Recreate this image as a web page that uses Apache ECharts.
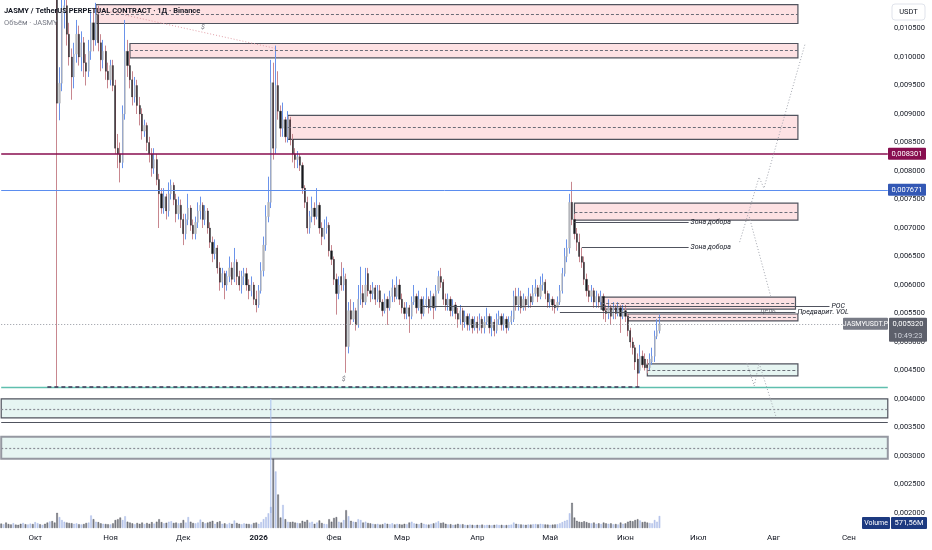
<!DOCTYPE html>
<html><head><meta charset="utf-8">
<script src="https://cdn.jsdelivr.net/npm/echarts@6/dist/echarts.min.js"></script>
<style>html,body{margin:0;padding:0;background:#fff}#c{width:932px;height:550px}</style>
</head><body><div id="c"></div>
<script>
// ---------------- data ----------------
const startDate = '2025-09-17';
const dayCount = 366;
const monthNames = ['Янв','Фев','Мар','Апр','Май','Июн','Июл','Авг','Сен','Окт','Ноя','Дек'];
const priceMin = 0.002, priceMax = 0.011, priceStep = 0.0005;
const volumeMax = 4200; // millions

// daily candles from 2025-09-17: [open, close, low, high]
const candles = [
[0.01560,0.01540,0.01520,0.01590],[0.01540,0.01580,0.01530,0.01600],[0.01580,0.01550,0.01530,0.01595],[0.01550,0.01510,0.01490,0.01565],
[0.01510,0.01470,0.01450,0.01525],[0.01470,0.01490,0.01455,0.01510],[0.01490,0.01460,0.01440,0.01500],[0.01460,0.01420,0.01400,0.01470],
[0.01420,0.01380,0.01360,0.01430],[0.01380,0.01400,0.01365,0.01415],[0.01400,0.01390,0.01370,0.01420],[0.01390,0.01420,0.01380,0.01440],
[0.01420,0.01440,0.01410,0.01460],[0.01440,0.01410,0.01395,0.01450],[0.01410,0.01450,0.01400,0.01470],[0.01450,0.01470,0.01435,0.01490],
[0.01470,0.01440,0.01425,0.01480],[0.01440,0.01460,0.01430,0.01475],[0.01460,0.01430,0.01410,0.01470],[0.01430,0.01400,0.01385,0.01440],
[0.01400,0.01410,0.01380,0.01425],[0.01410,0.01380,0.01360,0.01420],[0.01380,0.01370,0.01340,0.01395],[0.01370,0.00919,0.00421,0.01380],
[0.00919,0.00954,0.00889,0.00982],[0.00954,0.01080,0.00940,0.01110],[0.01080,0.01090,0.01050,0.01125],[0.01090,0.01040,0.01020,0.01105],
[0.01040,0.01000,0.00985,0.01060],[0.01000,0.00965,0.00925,0.01015],[0.00965,0.01005,0.00945,0.01025],[0.01005,0.01040,0.00990,0.01065],
[0.01040,0.01000,0.00985,0.01055],[0.01000,0.01025,0.00975,0.01045],[0.01025,0.00990,0.00965,0.01035],[0.00990,0.00975,0.00950,0.01005],
[0.00975,0.01010,0.00965,0.01030],[0.01010,0.01060,0.00995,0.01080],[0.01060,0.01030,0.01010,0.01085],[0.01030,0.01075,0.01020,0.01095],
[0.01075,0.01025,0.01010,0.01090],[0.01025,0.00995,0.00975,0.01040],[0.00995,0.01010,0.00980,0.01030],[0.01010,0.00975,0.00960,0.01020],
[0.00975,0.00960,0.00945,0.00990],[0.00960,0.00985,0.00950,0.00995],[0.00985,0.00950,0.00940,0.00995],[0.00950,0.00840,0.00830,0.00960],
[0.00840,0.00830,0.00805,0.00865],[0.00830,0.00815,0.00780,0.00850],[0.00815,0.00900,0.00805,0.00915],[0.00900,0.01010,0.00890,0.01065],
[0.01010,0.00985,0.00965,0.01030],[0.00985,0.00960,0.00945,0.01010],[0.00960,0.00930,0.00915,0.00975],[0.00930,0.00950,0.00920,0.00965],
[0.00950,0.00915,0.00900,0.00960],[0.00915,0.00900,0.00880,0.00930],[0.00900,0.00870,0.00855,0.00910],[0.00870,0.00880,0.00860,0.00890],
[0.00880,0.00850,0.00835,0.00885],[0.00850,0.00830,0.00815,0.00860],[0.00830,0.00805,0.00790,0.00840],[0.00805,0.00820,0.00795,0.00840],
[0.00820,0.00785,0.00775,0.00830],[0.00785,0.00760,0.00700,0.00795],[0.00760,0.00735,0.00725,0.00770],[0.00735,0.00755,0.00725,0.00770],
[0.00755,0.00730,0.00715,0.00760],[0.00730,0.00760,0.00720,0.00780],[0.00760,0.00775,0.00750,0.00785],[0.00775,0.00750,0.00740,0.00780],
[0.00750,0.00725,0.00710,0.00760],[0.00725,0.00740,0.00715,0.00755],[0.00740,0.00715,0.00700,0.00750],[0.00715,0.00690,0.00670,0.00725],
[0.00690,0.00715,0.00680,0.00725],[0.00715,0.00735,0.00705,0.00760],[0.00735,0.00705,0.00695,0.00740],[0.00705,0.00690,0.00680,0.00715],
[0.00690,0.00710,0.00680,0.00720],[0.00710,0.00730,0.00700,0.00745],[0.00730,0.00740,0.00715,0.00755],[0.00740,0.00715,0.00700,0.00745],
[0.00715,0.00730,0.00705,0.00740],[0.00730,0.00700,0.00690,0.00735],[0.00700,0.00675,0.00665,0.00710],[0.00675,0.00655,0.00640,0.00685],
[0.00655,0.00665,0.00645,0.00680],[0.00665,0.00630,0.00620,0.00670],[0.00630,0.00605,0.00590,0.00640],[0.00605,0.00620,0.00595,0.00630],
[0.00620,0.00600,0.00575,0.00625],[0.00600,0.00615,0.00590,0.00625],[0.00615,0.00630,0.00605,0.00650],[0.00630,0.00610,0.00600,0.00640],
[0.00610,0.00640,0.00605,0.00665],[0.00640,0.00615,0.00600,0.00645],[0.00615,0.00600,0.00590,0.00625],[0.00600,0.00615,0.00585,0.00625],
[0.00615,0.00620,0.00600,0.00630],[0.00620,0.00600,0.00590,0.00630],[0.00600,0.00590,0.00575,0.00610],[0.00590,0.00600,0.00580,0.00615],
[0.00600,0.00575,0.00565,0.00605],[0.00575,0.00565,0.00552,0.00590],[0.00565,0.00590,0.00560,0.00600],[0.00590,0.00625,0.00585,0.00640],
[0.00625,0.00670,0.00615,0.00685],[0.00670,0.00720,0.00660,0.00740],[0.00720,0.00745,0.00710,0.00790],[0.00745,0.00955,0.00735,0.00995],
[0.00955,0.00840,0.00820,0.00990],[0.00840,0.00950,0.00830,0.01020],[0.00950,0.00905,0.00890,0.00975],[0.00905,0.00875,0.00860,0.00915],
[0.00875,0.00890,0.00860,0.00920],[0.00890,0.00860,0.00850,0.00895],[0.00860,0.00890,0.00850,0.00905],[0.00890,0.00855,0.00845,0.00895],
[0.00855,0.00830,0.00815,0.00865],[0.00830,0.00820,0.00805,0.00840],[0.00820,0.00825,0.00805,0.00835],[0.00825,0.00810,0.00800,0.00830],
[0.00810,0.00770,0.00760,0.00815],[0.00770,0.00745,0.00735,0.00775],[0.00745,0.00700,0.00690,0.00755],[0.00700,0.00720,0.00690,0.00730],
[0.00720,0.00735,0.00710,0.00755],[0.00735,0.00720,0.00705,0.00745],[0.00720,0.00740,0.00715,0.00770],[0.00740,0.00700,0.00690,0.00745],
[0.00700,0.00685,0.00670,0.00710],[0.00685,0.00700,0.00680,0.00715],[0.00700,0.00705,0.00690,0.00720],[0.00705,0.00660,0.00650,0.00710],
[0.00660,0.00645,0.00635,0.00670],[0.00645,0.00610,0.00600,0.00650],[0.00610,0.00585,0.00548,0.00620],[0.00585,0.00600,0.00575,0.00615],
[0.00615,0.00600,0.00590,0.00640],[0.00600,0.00615,0.00590,0.00630],[0.00610,0.00492,0.00446,0.00620],[0.00492,0.00555,0.00480,0.00570],
[0.00555,0.00540,0.00530,0.00575],[0.00540,0.00555,0.00535,0.00570],[0.00555,0.00530,0.00520,0.00560],[0.00530,0.00575,0.00525,0.00600],
[0.00575,0.00585,0.00565,0.00632],[0.00585,0.00570,0.00560,0.00600],[0.00570,0.00600,0.00565,0.00630],[0.00620,0.00590,0.00580,0.00630],
[0.00590,0.00585,0.00570,0.00600],[0.00585,0.00595,0.00575,0.00605],[0.00595,0.00575,0.00565,0.00600],[0.00575,0.00590,0.00570,0.00600],
[0.00590,0.00570,0.00560,0.00600],[0.00570,0.00555,0.00545,0.00575],[0.00555,0.00575,0.00550,0.00585],[0.00575,0.00560,0.00530,0.00580],
[0.00560,0.00580,0.00555,0.00590],[0.00580,0.00595,0.00570,0.00610],[0.00595,0.00580,0.00570,0.00600],[0.00580,0.00600,0.00575,0.00615],
[0.00600,0.00575,0.00565,0.00610],[0.00575,0.00560,0.00550,0.00585],[0.00560,0.00550,0.00540,0.00570],[0.00550,0.00560,0.00540,0.00570],
[0.00560,0.00545,0.00516,0.00565],[0.00545,0.00570,0.00540,0.00580],[0.00570,0.00580,0.00565,0.00600],[0.00580,0.00560,0.00550,0.00585],
[0.00560,0.00575,0.00555,0.00590],[0.00575,0.00550,0.00540,0.00580],[0.00550,0.00565,0.00545,0.00580],[0.00565,0.00575,0.00560,0.00595],
[0.00575,0.00560,0.00550,0.00580],[0.00560,0.00580,0.00555,0.00590],[0.00580,0.00560,0.00540,0.00585],[0.00560,0.00590,0.00555,0.00600],
[0.00590,0.00615,0.00585,0.00625],[0.00615,0.00605,0.00595,0.00630],[0.00605,0.00575,0.00565,0.00610],[0.00575,0.00565,0.00555,0.00585],
[0.00565,0.00575,0.00555,0.00585],[0.00575,0.00555,0.00545,0.00580],[0.00555,0.00565,0.00545,0.00575],[0.00565,0.00550,0.00540,0.00570],
[0.00550,0.00540,0.00525,0.00560],[0.00540,0.00555,0.00530,0.00565],[0.00555,0.00535,0.00520,0.00560],[0.00535,0.00545,0.00525,0.00555],
[0.00545,0.00530,0.00520,0.00550],[0.00530,0.00540,0.00520,0.00550],[0.00540,0.00525,0.00515,0.00545],[0.00525,0.00535,0.00520,0.00545],
[0.00535,0.00525,0.00515,0.00545],[0.00525,0.00540,0.00520,0.00550],[0.00540,0.00525,0.00515,0.00545],[0.00525,0.00535,0.00515,0.00545],
[0.00535,0.00545,0.00530,0.00560],[0.00545,0.00525,0.00515,0.00550],[0.00525,0.00535,0.00510,0.00545],[0.00535,0.00520,0.00510,0.00540],
[0.00520,0.00540,0.00515,0.00550],[0.00540,0.00545,0.00530,0.00555],[0.00545,0.00530,0.00520,0.00550],[0.00530,0.00540,0.00520,0.00550],
[0.00540,0.00525,0.00515,0.00545],[0.00525,0.00535,0.00520,0.00545],[0.00535,0.00545,0.00530,0.00555],[0.00540,0.00580,0.00535,0.00590],
[0.00580,0.00565,0.00555,0.00595],[0.00565,0.00580,0.00555,0.00595],[0.00580,0.00560,0.00550,0.00590],[0.00560,0.00575,0.00555,0.00585],
[0.00575,0.00565,0.00555,0.00580],[0.00565,0.00580,0.00560,0.00595],[0.00580,0.00570,0.00560,0.00585],[0.00570,0.00585,0.00565,0.00600],
[0.00585,0.00595,0.00580,0.00610],[0.00595,0.00580,0.00570,0.00600],[0.00580,0.00600,0.00575,0.00615],[0.00600,0.00605,0.00590,0.00620],
[0.00605,0.00585,0.00575,0.00610],[0.00585,0.00570,0.00560,0.00590],[0.00570,0.00575,0.00560,0.00585],[0.00575,0.00565,0.00555,0.00580],
[0.00565,0.00560,0.00550,0.00575],[0.00560,0.00570,0.00555,0.00580],[0.00570,0.00590,0.00565,0.00600],[0.00590,0.00620,0.00585,0.00630],
[0.00620,0.00650,0.00615,0.00665],[0.00650,0.00665,0.00640,0.00680],[0.00665,0.00745,0.00655,0.00760],[0.00745,0.00715,0.00705,0.00781],
[0.00715,0.00690,0.00680,0.00725],[0.00690,0.00675,0.00660,0.00700],[0.00675,0.00650,0.00640,0.00690],[0.00650,0.00640,0.00630,0.00665],
[0.00640,0.00610,0.00600,0.00650],[0.00610,0.00590,0.00580,0.00620],[0.00590,0.00580,0.00570,0.00600],[0.00580,0.00590,0.00570,0.00600],
[0.00590,0.00570,0.00560,0.00595],[0.00570,0.00580,0.00560,0.00590],[0.00580,0.00570,0.00560,0.00585],[0.00570,0.00580,0.00565,0.00590],
[0.00580,0.00555,0.00540,0.00585],[0.00555,0.00550,0.00535,0.00565],[0.00550,0.00560,0.00540,0.00575],[0.00560,0.00545,0.00530,0.00565],
[0.00545,0.00560,0.00540,0.00570],[0.00560,0.00550,0.00540,0.00565],[0.00550,0.00560,0.00545,0.00570],[0.00560,0.00545,0.00516,0.00565],
[0.00545,0.00555,0.00540,0.00565],[0.00555,0.00545,0.00535,0.00565],[0.00545,0.00520,0.00510,0.00550],[0.00520,0.00500,0.00490,0.00525],
[0.00500,0.00490,0.00478,0.00508],[0.00490,0.00465,0.00451,0.00495],[0.00470,0.00445,0.00421,0.00480],[0.00450,0.00475,0.00445,0.00495],
[0.00475,0.00460,0.00455,0.00485],[0.00470,0.00455,0.00450,0.00480],[0.00460,0.00455,0.00445,0.00470],[0.00455,0.00470,0.00450,0.00480],
[0.00465,0.00475,0.00460,0.00490],[0.00475,0.00510,0.00465,0.00520],[0.00510,0.00520,0.00505,0.00540],[0.00520,0.00532,0.00515,0.00548]
];

// daily volume, millions JASMY
const volumes = [
210,180,260,190,170,230,160,150,200,240, 180,170,210,190,280,230,180,150,200,260,
310,330,260,720,520,380,300,260,240,230, 200,220,180,170,190,240,260,600,420,300,
280,220,200,190,180,170,220,380,420,500, 380,560,300,260,220,180,240,200,260,190,
240,200,280,210,300,420,280,220,250,300, 320,240,260,220,240,380,260,520,300,240,
220,260,400,280,220,260,300,340,200,280, 320,200,220,180,240,200,360,240,200,180,
220,200,190,170,240,260,200,280,420,520, 700,1000,3300,2700,1600,500,1100,420,300,280,
300,260,240,220,340,300,380,260,300,200, 260,360,240,200,180,420,300,480,520,300,
260,380,850,560,340,300,280,420,380,260, 300,240,220,200,180,200,160,180,240,200,
180,220,170,200,180,160,200,180,260,300, 220,200,180,240,200,170,160,190,220,260,
320,240,260,200,170,180,150,160,200,170, 180,150,140,160,150,130,150,140,160,130,
150,140,130,150,160,140,150,130,140,150, 160,260,200,180,170,160,150,170,160,180,
190,170,200,180,170,160,150,160,170,180, 220,280,340,380,700,1200,500,340,300,280,
320,280,240,220,260,200,220,190,260,220, 200,220,180,190,170,260,200,220,300,340,
320,380,420,360,280,300,260,240,220,380, 300,571.56
];

const lastPrice = 0.005320;
const lastTime = '10:49:23';
const lastVolumeText = '571,56M';
const maroonLevel = 0.008301;
const blueLevel = 0.007671;
const tealLevel = 0.004213;

// pink / green boxes: [from, to, top, bottom, middle]
const pinkZones = [
  ['2025-10-26','2026-08-11',0.010920,0.010588,0.010755],
  ['2025-11-09','2026-08-11',0.010237,0.009985,0.010115],
  ['2026-01-13','2026-08-11',0.008976,0.008556,0.008766],
  ['2026-05-11','2026-08-11',0.007435,0.007137,0.007278],
  ['2026-05-22','2026-08-10',0.005789,0.005578,0.005684],
  ['2026-06-02','2026-08-11',0.005491,0.005369,0.005430]
];
const greenZones = [
  ['2026-06-10','2026-08-11',0.004616,0.004405,0.004511]
];
// full-width green bands: [top, bottom, middle]
const greenBands = [
  [0.004003,0.003670,0.003828],
  [0.003337,0.002952,0.003144]
];
const extraLevel = 0.003600;
// labelled segments: [from, to, price, text]
const labelledLines = [
  ['2026-05-11','2026-06-27',0.007102,'Зона добора'],
  ['2026-05-14','2026-06-27',0.006665,'Зона добора'],
  ['2026-03-09','2026-08-24',0.005630,'POC'],
  ['2026-05-05','2026-08-10',0.005526,'Предварит. VOL']
];
const notes = [
  ['2026-07-26',0.005544,'цель'],
  ['2025-12-09',0.010520,'$'],
  ['2026-02-05',0.004340,'$']
];
const lowDashLine = [['2025-10-06',0.004213],['2026-06-07',0.004213]];
const diagLine = [['2025-10-26',0.010850],['2026-01-08',0.010150]];
const vLine = [['2026-01-06',0.004000],['2026-01-06',0.002000]];
const projPaths = [
  [['2026-07-18',0.006752],['2026-07-26',0.007891],['2026-07-28',0.007698],['2026-08-14',0.010237]],
  [['2026-07-22',0.007190],['2026-07-31',0.005771]],
  [['2026-07-21',0.004633],['2026-07-24',0.004230],['2026-07-26',0.004633],['2026-08-02',0.003687]]
];

// ---------------- build ----------------
function buildDates(){
  const out = []; const t0 = Date.parse(startDate + 'T00:00:00Z');
  for (let i = 0; i < dayCount; i++) out.push(new Date(t0 + i*86400000).toISOString().slice(0,10));
  return out;
}
const categories = buildDates();
const firstDay = categories[0], lastDay = categories[categories.length - 1];
const FONT = 'Roboto, "Noto Sans", sans-serif';
const fmtPrice = v => v.toFixed(6).replace('.', ',');

const bodies = candles.map(r => [r[0], r[1], Math.min(r[0], r[1]), Math.max(r[0], r[1])]);
const volData = volumes.map((v, i) => ({
  value: v,
  itemStyle: candles[i][1] >= candles[i][0]
    ? { color: 'rgba(150,172,228,0.55)', borderColor: 'rgba(130,155,220,0.7)', borderWidth: 0.4 }
    : { color: 'rgba(95,98,110,0.75)', borderColor: 'rgba(60,62,70,0.9)', borderWidth: 0.4 }
}));

const zoneStylePink = { color: 'rgba(242,54,69,0.15)', borderColor: '#50535e', borderWidth: 1.2 };
const zoneStyleGreen = { color: 'rgba(8,153,129,0.10)', borderColor: '#50535e', borderWidth: 1.2 };

const areaData = [];
pinkZones.forEach(z => areaData.push([{ xAxis: z[0], yAxis: z[2], itemStyle: zoneStylePink }, { xAxis: z[1], yAxis: z[3] }]));
greenZones.forEach(z => areaData.push([{ xAxis: z[0], yAxis: z[2], itemStyle: zoneStyleGreen }, { xAxis: z[1], yAxis: z[3] }]));
greenBands.forEach((z, k) => areaData.push([{ xAxis: firstDay, yAxis: z[0], itemStyle: k === 0 ? zoneStyleGreen :
  { color: 'rgba(8,153,129,0.10)', borderColor: '#9598a1', borderWidth: 2 } }, { xAxis: lastDay, yAxis: z[1] }]));

const fullLine = (v, style) => [{ coord: [firstDay, v], lineStyle: style }, { coord: [lastDay, v] }];
const dashMid = { color: '#6a6d78', type: [3, 2], width: 1 };
const lineData = [];
pinkZones.concat(greenZones).forEach(z => lineData.push([{ coord: [z[0], z[4]], lineStyle: dashMid }, { coord: [z[1], z[4]] }]));
greenBands.forEach(z => lineData.push(fullLine(z[2], { color: '#8a8d96', type: [2, 2], width: 1.2 })));
lineData.push(fullLine(extraLevel, { color: '#50535e', width: 1.2, type: 'solid' }));
lineData.push(fullLine(maroonLevel, { color: '#880e4f', width: 1.5, type: 'solid' }));
lineData.push(fullLine(blueLevel, { color: '#5b8def', width: 1, type: 'solid' }));
lineData.push(fullLine(tealLevel, { color: '#5fbfae', width: 1.3, type: 'solid' }));
lineData.push(fullLine(lastPrice, { color: '#9598a1', width: 1, type: [1, 2] }));
lineData.push([{ coord: lowDashLine[0], lineStyle: { color: '#3f3557', width: 1.6, type: [4, 3] } }, { coord: lowDashLine[1] }]);
labelledLines.forEach(l => lineData.push([{
  coord: [l[0], l[2]], lineStyle: { color: '#50535e', width: 1, type: 'solid' },
  label: { show: true, position: 'end', distance: 2, formatter: l[3], fontStyle: 'italic', fontSize: 7, color: '#131722', fontFamily: FONT }
}, { coord: [l[1], l[2]] }]));

const series = [
  { name: 'marks', type: 'line', xAxisIndex: 0, yAxisIndex: 0, data: [], z: 1, silent: true,
    markArea: { silent: true, data: areaData },
    markLine: { silent: true, symbol: ['none', 'none'], label: { show: false }, data: lineData } },
  { name: 'wicks', type: 'candlestick', xAxisIndex: 0, yAxisIndex: 0, data: candles, z: 3, barWidth: 0.2,
    itemStyle: { color: '#6b93ea', color0: '#c8878f', borderColor: '#6b93ea', borderColor0: '#c8878f', borderWidth: 1 } },
  { name: 'bodies', type: 'candlestick', xAxisIndex: 0, yAxisIndex: 0, data: bodies, z: 4, barWidth: 1.7,
    itemStyle: { color: '#b4b6bc', color0: '#16171c', borderColor: '#b4b6bc', borderColor0: '#16171c', borderWidth: 0.3 } },
  { name: 'diag', type: 'line', xAxisIndex: 0, yAxisIndex: 0, data: diagLine, symbol: 'none', z: 2,
    lineStyle: { color: '#e3a0a8', width: 1, type: [1, 2] } },
  { name: 'vline', type: 'line', xAxisIndex: 0, yAxisIndex: 0, data: vLine, symbol: 'none', z: 2,
    lineStyle: { color: '#a9c0f0', width: 1 } },
  ...projPaths.map(p => ({ type: 'line', xAxisIndex: 0, yAxisIndex: 0, data: p, symbol: 'none', z: 5,
    lineStyle: { color: '#a3a6af', width: 1, type: [1, 2] } })),
  { name: 'notes', type: 'scatter', xAxisIndex: 0, yAxisIndex: 0, z: 6, symbolSize: 1,
    itemStyle: { color: 'transparent' },
    data: notes.map(n => ({ value: [n[0], n[1]], label: { show: true, formatter: n[2], position: n[2] === '$' ? 'inside' : 'right',
      distance: 1, fontSize: 7, fontStyle: 'italic', color: '#50535e', fontFamily: FONT } })) },
  { name: 'Volume', type: 'bar', xAxisIndex: 1, yAxisIndex: 1, data: volData, barWidth: 1.6, z: 3 }
];

const option = {
  animation: false,
  backgroundColor: '#ffffff',
  textStyle: { fontFamily: FONT },
  grid: [
    { left: 0, right: 43, top: 0, height: 513 },
    { left: 0, right: 43, top: 440, bottom: 22 }
  ],
  xAxis: [
    { type: 'category', gridIndex: 0, data: categories, boundaryGap: true, show: false },
    { type: 'category', gridIndex: 1, data: categories, boundaryGap: true,
      axisLine: { show: false }, axisTick: { show: false }, splitLine: { show: false },
      axisLabel: { interval: (i, v) => v.slice(8) === '01', margin: 6, fontSize: 8, color: '#131722', fontFamily: FONT,
        formatter: v => { const m = +v.slice(5, 7); return m === 1 ? '{b|' + v.slice(0, 4) + '}' : monthNames[m - 1]; },
        rich: { b: { fontWeight: 'bold', fontSize: 8, color: '#131722', fontFamily: FONT } } } }
  ],
  yAxis: [
    { type: 'value', gridIndex: 0, position: 'right', min: priceMin, max: priceMax, interval: priceStep,
      splitLine: { show: false }, axisLine: { show: false }, axisTick: { show: false },
      axisLabel: { margin: 5, fontSize: 7.5, color: '#131722', fontFamily: FONT,
        formatter: v => v > 0.0106 ? '' : fmtPrice(v) } },
    { type: 'value', gridIndex: 1, min: 0, max: volumeMax, show: false }
  ],
  series
};

const chart = echarts.init(document.getElementById('c'), null, { renderer: 'canvas' });
chart.setOption(option);

const py = v => chart.convertToPixel({ yAxisIndex: 0 }, v);
function tag(x, y, w, h, fill, text, color, size) {
  return [
    { type: 'rect', shape: { x, y, width: w, height: h, r: 1 }, style: { fill }, z: 100 },
    { type: 'text', x: x + w / 2, y: y + h / 2, style: { text, fill: color || '#fff', fontSize: size || 7.5, fontFamily: FONT, align: 'center', verticalAlign: 'middle' }, z: 101 }
  ];
}
const yM = py(maroonLevel), yB = py(blueLevel), yL = py(lastPrice);
const graphics = [].concat(
  [{ type: 'text', x: 4, y: 11, style: { text: 'JASMY / TetherUS PERPETUAL CONTRACT · 1Д · Binance', fill: '#131722', fontSize: 7.5, fontWeight: 'bold', fontFamily: FONT, verticalAlign: 'middle' }, z: 110 },
   { type: 'text', x: 4, y: 23, style: { text: 'Объём · JASMY', fill: '#787b86', fontSize: 7.5, fontFamily: FONT, verticalAlign: 'middle' }, z: 110 },
   { type: 'rect', shape: { x: 892, y: 4, width: 33, height: 16, r: 3 }, style: { fill: '#fff', stroke: '#e0e3eb', lineWidth: 1 }, z: 100 },
   { type: 'text', x: 908.5, y: 12, style: { text: 'USDT', fill: '#131722', fontSize: 7.5, fontFamily: FONT, align: 'center', verticalAlign: 'middle' }, z: 101 }],
  tag(888, yM - 6, 38, 12, '#880e4f', fmtPrice(maroonLevel)),
  tag(888, yB - 6, 38, 12, '#3358b5', fmtPrice(blueLevel)),
  tag(843, yL - 6, 45, 12, '#787b86', 'JASMYUSDT.P', '#fff', 7),
  [{ type: 'rect', shape: { x: 889, y: yL - 6, width: 38, height: 24, r: 1 }, style: { fill: '#5d606b' }, z: 100 },
   { type: 'text', x: 908, y: yL, style: { text: fmtPrice(lastPrice), fill: '#fff', fontSize: 7.5, fontFamily: FONT, align: 'center', verticalAlign: 'middle' }, z: 101 },
   { type: 'text', x: 908, y: yL + 12, style: { text: lastTime, fill: '#d1d4dc', fontSize: 7.5, fontFamily: FONT, align: 'center', verticalAlign: 'middle' }, z: 101 }],
  tag(862, 517, 28, 12, '#1d3a80', 'Volume', '#fff', 7),
  tag(891, 517, 36, 12, '#1d3a80', lastVolumeText, '#fff', 7.5)
);
chart.setOption({ graphic: graphics });
</script>
</body></html>
